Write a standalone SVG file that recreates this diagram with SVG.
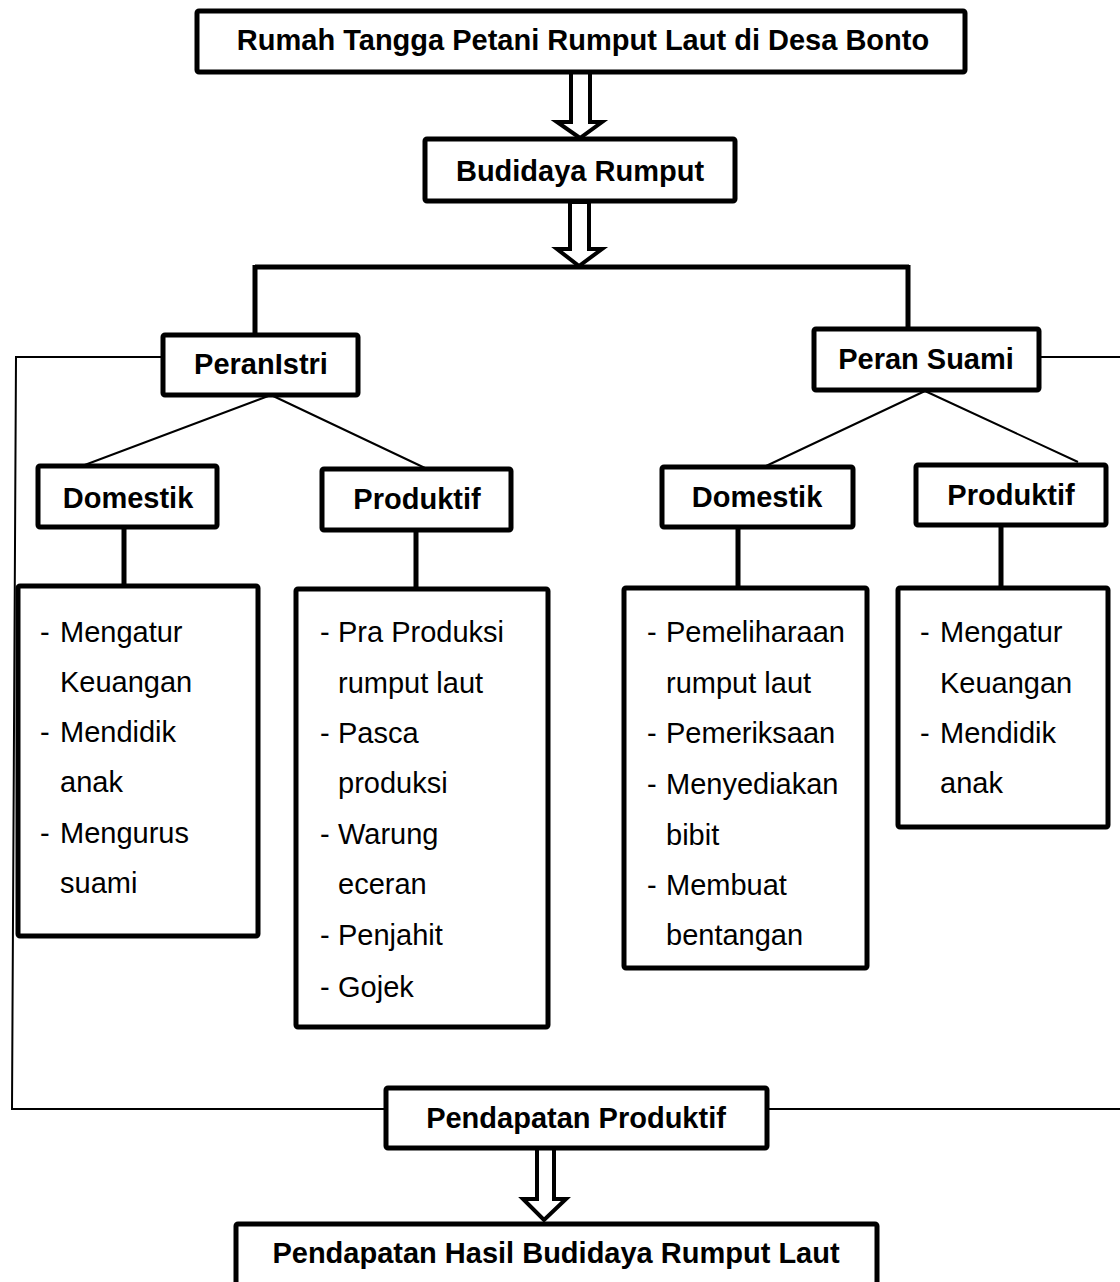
<svg xmlns="http://www.w3.org/2000/svg" width="1120" height="1282" viewBox="0 0 1120 1282">
<style>
.box{fill:#fff;stroke:#000;stroke-width:5}
.lbl{font-family:"Liberation Sans",Arial,sans-serif;font-weight:bold;font-size:29px;fill:#000;text-anchor:middle}
.itm{font-family:"Liberation Sans",Arial,sans-serif;font-size:29px;fill:#000}
.thin{fill:none;stroke:#000;stroke-width:2}
.thick{fill:none;stroke:#000;stroke-width:5}
.arr{fill:#fff;stroke:#000;stroke-width:4;stroke-linejoin:miter}
</style>
<rect width="1120" height="1282" fill="#fff"/>
<g id="connectors">
  <path class="thick" d="M255,267 H909 M255,265 V336 M908,265 V330"/>
  <path class="thin" d="M163,357 H16 L12,1109 H386"/>
  <path class="thin" d="M1039,357 H1120"/>
  <path class="thin" d="M767,1109 H1120"/>
  <path class="thin" d="M271,395 L82,466 M271,395 L425,468"/>
  <path class="thin" d="M925,391 L766,466 M925,391 L1078,462"/>
  <path class="thick" d="M124,527 V586 M416,530 V589 M738,527 V588 M1001,525 V588"/>
  <polygon class="arr" points="571,72 590,72 590,122 602,122 580,138 557,122 571,122"/>
  <polygon class="arr" points="570,202 589,202 589,249 602,249 579,266 557,249 570,249"/>
  <polygon class="arr" points="537,1148 554,1148 554,1199 566,1199 544,1220 523,1199 537,1199"/>
</g>
<g id="n-top">
  <rect class="box" x="197" y="11" width="768" height="61" rx="2"/>
  <text class="lbl" x="583" y="50">Rumah Tangga Petani Rumput Laut di Desa Bonto</text>
</g>
<g id="n-budidaya">
  <rect class="box" x="425" y="139" width="310" height="62" rx="2"/>
  <text class="lbl" x="580" y="181">Budidaya Rumput</text>
</g>
<g id="n-istri">
  <rect class="box" x="163" y="335" width="195" height="60" rx="2"/>
  <text class="lbl" x="261" y="374">PeranIstri</text>
</g>
<g id="n-suami">
  <rect class="box" x="814" y="329" width="225" height="61" rx="2"/>
  <text class="lbl" x="926" y="369">Peran Suami</text>
</g>
<g id="n-istri-dom">
  <rect class="box" x="38" y="466" width="179" height="61" rx="2"/>
  <text class="lbl" x="128" y="508">Domestik</text>
</g>
<g id="n-istri-prod">
  <rect class="box" x="322" y="469" width="189" height="61" rx="2"/>
  <text class="lbl" x="417" y="509">Produktif</text>
</g>
<g id="n-suami-dom">
  <rect class="box" x="662" y="467" width="191" height="60" rx="2"/>
  <text class="lbl" x="757" y="507">Domestik</text>
</g>
<g id="n-suami-prod">
  <rect class="box" x="916" y="465" width="190" height="60" rx="2"/>
  <text class="lbl" x="1011" y="505">Produktif</text>
</g>
<g id="n-list-istri-dom">
  <rect class="box" x="18" y="586" width="240" height="350" rx="2"/>
  <g class="itm">
    <text x="40" y="642">-</text><text x="60" y="642">Mengatur</text>
    <text x="60" y="692">Keuangan</text>
    <text x="40" y="742">-</text><text x="60" y="742">Mendidik</text>
    <text x="60" y="792">anak</text>
    <text x="40" y="843">-</text><text x="60" y="843">Mengurus</text>
    <text x="60" y="893">suami</text>
  </g>
</g>
<g id="n-list-istri-prod">
  <rect class="box" x="296" y="589" width="252" height="438" rx="2"/>
  <g class="itm">
    <text x="320" y="642">-</text><text x="338" y="642">Pra Produksi</text>
    <text x="338" y="693">rumput laut</text>
    <text x="320" y="743">-</text><text x="338" y="743">Pasca</text>
    <text x="338" y="793">produksi</text>
    <text x="320" y="844">-</text><text x="338" y="844">Warung</text>
    <text x="338" y="894">eceran</text>
    <text x="320" y="945">-</text><text x="338" y="945">Penjahit</text>
    <text x="320" y="997">-</text><text x="338" y="997">Gojek</text>
  </g>
</g>
<g id="n-list-suami-dom">
  <rect class="box" x="624" y="588" width="243" height="380" rx="2"/>
  <g class="itm">
    <text x="647" y="642">-</text><text x="666" y="642">Pemeliharaan</text>
    <text x="666" y="693">rumput laut</text>
    <text x="647" y="743">-</text><text x="666" y="743">Pemeriksaan</text>
    <text x="647" y="794">-</text><text x="666" y="794">Menyediakan</text>
    <text x="666" y="845">bibit</text>
    <text x="647" y="895">-</text><text x="666" y="895">Membuat</text>
    <text x="666" y="945">bentangan</text>
  </g>
</g>
<g id="n-list-suami-prod">
  <rect class="box" x="898" y="588" width="210" height="239" rx="2"/>
  <g class="itm">
    <text x="920" y="642">-</text><text x="940" y="642">Mengatur</text>
    <text x="940" y="693">Keuangan</text>
    <text x="920" y="743">-</text><text x="940" y="743">Mendidik</text>
    <text x="940" y="793">anak</text>
  </g>
</g>
<g id="n-pend-prod">
  <rect class="box" x="386" y="1088" width="381" height="60" rx="2"/>
  <text class="lbl" x="576" y="1128">Pendapatan Produktif</text>
</g>
<g id="n-pend-hasil">
  <rect class="box" x="236" y="1224" width="641" height="80" rx="2"/>
  <text class="lbl" x="556" y="1263">Pendapatan Hasil Budidaya Rumput Laut</text>
</g>
</svg>
